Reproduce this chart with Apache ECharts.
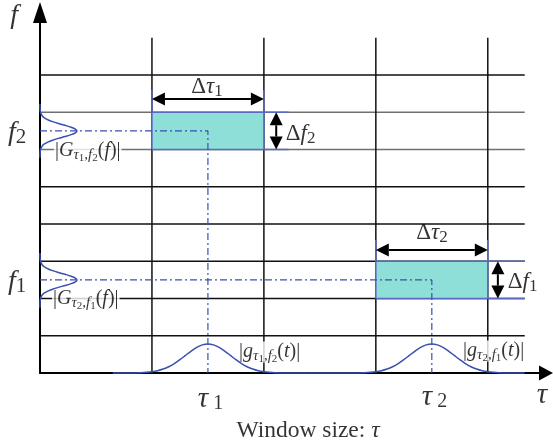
<!DOCTYPE html>
<html><head><meta charset="utf-8">
<script src="https://cdn.jsdelivr.net/npm/echarts@6/dist/echarts.min.js"></script>
<style>html,body{margin:0;padding:0;background:#fff}#c{width:553px;height:440px}</style>
</head><body><div id="c"></div>
<script>
// ---------------- data ----------------
const gridRows = [1, 2, 3, 4, 5, 6, 7, 8];
const gridCols = [1, 2, 3, 4];
const fadedRows = [6, 7];
const gridRowEnd = 4.33;
const gridColTop = 9;

const windowCenters = [1.5, 3.5];   // tau1, tau2
const freqCenters = [6.5, 2.5];     // f2, f1

const tileX0 = [1, 3];
const tileX1 = [2, 4];
const tileY0 = [6, 2];
const tileY1 = [7, 3];
const tileEdgeRight = [2.22, 4.33];
const tileEdgeTop = [7.6, 3.57];

const spanArrowX1 = [1, 3, 2.11, 4.09];
const spanArrowY1 = [7.36, 3.3, 6, 2];
const spanArrowX2 = [2, 4, 2.11, 4.09];
const spanArrowY2 = [7.36, 3.3, 7, 3];

// time-window magnitude |g(t)| curves
const g1x = [0.65, 0.8, 0.9, 0.95, 1.0, 1.05, 1.1, 1.15, 1.2, 1.25, 1.3, 1.35, 1.4, 1.45, 1.5, 1.55, 1.6, 1.65, 1.7, 1.75, 1.8, 1.85, 1.9, 1.95, 2.0, 2.05, 2.1, 2.2, 2.4];
const g1y = [0, 0.002, 0.009, 0.018, 0.034, 0.062, 0.106, 0.169, 0.253, 0.357, 0.473, 0.589, 0.688, 0.756, 0.78, 0.756, 0.688, 0.589, 0.473, 0.357, 0.253, 0.169, 0.106, 0.062, 0.034, 0.018, 0.009, 0.002, 0];
const g2x = [2.4, 2.8, 2.9, 2.95, 3.0, 3.05, 3.1, 3.15, 3.2, 3.25, 3.3, 3.35, 3.4, 3.45, 3.5, 3.55, 3.6, 3.65, 3.7, 3.75, 3.8, 3.85, 3.9, 3.95, 4.0, 4.05, 4.1, 4.2, 4.33];
const g2y = [0, 0.002, 0.009, 0.018, 0.034, 0.062, 0.106, 0.169, 0.253, 0.357, 0.473, 0.589, 0.688, 0.756, 0.78, 0.756, 0.688, 0.589, 0.473, 0.357, 0.253, 0.169, 0.106, 0.062, 0.034, 0.018, 0.009, 0.002, 0];

// frequency magnitude |G(f)| curves (amplitude along x, frequency along y)
const G2amp = [0, 0.0007, 0.0044, 0.0207, 0.0396, 0.0696, 0.112, 0.165, 0.224, 0.278, 0.316, 0.33, 0.316, 0.278, 0.224, 0.165, 0.112, 0.0696, 0.0396, 0.0207, 0.0044, 0.0007, 0];
const G2f = [7.22, 7.1, 7.0, 6.9, 6.85, 6.8, 6.75, 6.7, 6.65, 6.6, 6.55, 6.5, 6.45, 6.4, 6.35, 6.3, 6.25, 6.2, 6.15, 6.1, 6.0, 5.9, 5.78];
const G1amp = [0, 0.0007, 0.0044, 0.0207, 0.0396, 0.0696, 0.112, 0.165, 0.224, 0.278, 0.316, 0.33, 0.316, 0.278, 0.224, 0.165, 0.112, 0.0696, 0.0396, 0.0207, 0.0044, 0.0007, 0];
const G1f = [3.22, 3.1, 3.0, 2.9, 2.85, 2.8, 2.75, 2.7, 2.65, 2.6, 2.55, 2.5, 2.45, 2.4, 2.35, 2.3, 2.25, 2.2, 2.15, 2.1, 2.0, 1.9, 1.75];

// text annotations
const labelTexts = [
  '{I|f}',
  '{I|f}{Sr|2}',
  '{I|f}{Sr|1}',
  '{gR||}{gI|G}{gSi|τ}{gSS|1}{gSr|,}{gSi|f}{gSS|2}{gR|(}{gI|f}{gR|)|}',
  '{gR||}{gI|G}{gSi|τ}{gSS|2}{gSr|,}{gSi|f}{gSS|1}{gR|(}{gI|f}{gR|)|}',
  '{dR|Δ}{dI|τ}{dS|1}',
  '{dR|Δ}{dI|f}{dS|2}',
  '{dR|Δ}{dI|τ}{dS|2}',
  '{dR|Δ}{dI|f}{dS|1}',
  '{gR||}{gI|g}{gSi|τ}{gSS|1}{gSr|,}{gSi|f}{gSS|2}{gR|(}{gI|t}{gR|)|}',
  '{gR||}{gI|g}{gSi|τ}{gSS|2}{gSr|,}{gSi|f}{gSS|1}{gR|(}{gI|t}{gR|)|}',
  '{T|τ}{Ts| 1}',
  '{T|τ}{Ts| 2}',
  '{T|τ}',
  '{w|Window size: }{wI|τ}'
];
const labelX = [-0.232, -0.286, -0.286, 0.125, 0.107, 1.492, 2.195, 3.502, 4.178, 1.769, 3.770, 1.410, 3.411, 4.484, 2.394];
const labelY = [9.587, 6.445, 2.444, 5.961, 1.987, 7.68, 6.418, 3.759, 2.444, 0.564, 0.591, -0.698, -0.644, -0.591, -1.557];
const labelAlign = ['center', 'left', 'left', 'left', 'left', 'center', 'left', 'center', 'left', 'left', 'left', 'left', 'left', 'center', 'center'];
const labelBoxed = [0, 0, 0, 1, 1, 0, 0, 0, 0, 1, 1, 0, 0, 0, 0];

// ---------------- styles ----------------
const SERIF = '"Liberation Serif", "DejaVu Serif", serif';
const BLUE = '#3a4fb2';
const EDGE = '#5a6ac4';
const FILL = '#8edfd7';

function tok(size, italic, shift, lh) {
  const o = { fontFamily: SERIF, fontSize: size, fontStyle: italic ? 'italic' : 'normal', color: '#000', lineHeight: lh };
  if (shift) o.padding = [shift * 2, 0, 0, 0];
  return o;
}
const rich = {
  I: tok(28, true, 0, 32), Sr: tok(21, false, 5, 32),
  T: tok(29, true, 0, 32), Ts: tok(20, false, 5, 32),
  dI: tok(23, true, 0, 26), dR: tok(23, false, 0, 26), dS: tok(17, false, 5, 26),
  gI: tok(20, true, 0, 21), gR: tok(20, false, 0, 21), gSi: tok(15, true, 4, 21), gSr: tok(15, false, 4, 21), gSS: tok(11, false, 7, 21),
  w: tok(23.5, false, 0, 26), wI: tok(23.5, true, 0, 26)
};

// ---------------- build series data ----------------
const gridSegs = [];
gridRows.forEach(r => gridSegs.push([0, r, gridRowEnd, r, fadedRows.includes(r) ? 1 : 0]));
gridCols.forEach(c => gridSegs.push([c, 0, c, gridColTop, 0]));

const tiles = tileX0.map((x0, i) => [x0, tileX1[i], tileY0[i], tileY1[i], tileEdgeRight[i], tileEdgeTop[i]]);
const arrows = spanArrowX1.map((x, i) => [x, spanArrowY1[i], spanArrowX2[i], spanArrowY2[i]]);

const zip = (a, b) => a.map((v, i) => [v, b[i]]);

const labelData = labelTexts.map((t, i) => ({
  value: [labelX[i], labelY[i]],
  label: Object.assign({
    show: true, formatter: t, align: labelAlign[i], verticalAlign: 'middle', position: [0, 0]
  }, labelBoxed[i] ? { backgroundColor: '#fff', padding: [0, 1] } : {})
}));

const option = {
  animation: false,
  backgroundColor: '#fff',
  grid: { left: 40, right: 7, top: 12.5, bottom: 67 },
  xAxis: {
    type: 'value', min: 0, max: 4.52,
    axisLine: { lineStyle: { color: '#000', width: 2 }, symbol: ['none', 'triangle'], symbolSize: [15, 14] },
    axisTick: { show: false }, axisLabel: { show: false }, splitLine: { show: false }
  },
  yAxis: {
    type: 'value', min: 0, max: 9.68,
    axisLine: { lineStyle: { color: '#000', width: 2 }, symbol: ['none', 'triangle'], symbolSize: [14, 21] },
    axisTick: { show: false }, axisLabel: { show: false }, splitLine: { show: false }
  },
  series: [
    {
      type: 'custom', z: 1, clip: false, data: gridSegs,
      renderItem: (p, api) => {
        const a = api.coord([api.value(0), api.value(1)]);
        const b = api.coord([api.value(2), api.value(3)]);
        return { type: 'line', shape: { x1: a[0], y1: a[1], x2: b[0], y2: b[1] },
          style: { stroke: api.value(4) ? '#707070' : '#111', lineWidth: 1.5 } };
      }
    },
    {
      type: 'custom', z: 2, clip: false, data: tiles,
      renderItem: (p, api) => {
        const x0 = api.value(0), x1 = api.value(1), y0 = api.value(2), y1 = api.value(3);
        const xr = api.value(4), yt = api.value(5);
        const tl = api.coord([x0, y1]), br = api.coord([x1, y0]);
        const er = api.coord([xr, y0]), et = api.coord([x0, yt]);
        const ln = (ax, ay, bx, by) => ({ type: 'line', shape: { x1: ax, y1: ay, x2: bx, y2: by }, style: { stroke: EDGE, lineWidth: 1.5 } });
        return { type: 'group', children: [
          { type: 'rect', shape: { x: tl[0], y: tl[1], width: br[0] - tl[0], height: br[1] - tl[1] }, style: { fill: FILL } },
          ln(tl[0], tl[1], er[0], tl[1]),
          ln(tl[0], br[1], er[0], br[1]),
          ln(tl[0], br[1], tl[0], et[1]),
          ln(br[0], br[1], br[0], et[1])
        ] };
      }
    },
    {
      type: 'custom', z: 3, clip: false, data: arrows,
      renderItem: (p, api) => {
        const a = api.coord([api.value(0), api.value(1)]);
        const b = api.coord([api.value(2), api.value(3)]);
        const dx = b[0] - a[0], dy = b[1] - a[1], len = Math.hypot(dx, dy);
        const ux = dx / len, uy = dy / len, nx = -uy, ny = ux;
        const L = 13, W = 6.5;
        const head = (tx, ty, s) => ({ type: 'polygon', shape: { points: [
          [tx, ty], [tx + s * ux * L + nx * W, ty + s * uy * L + ny * W], [tx + s * ux * L - nx * W, ty + s * uy * L - ny * W]
        ] }, style: { fill: '#000' } });
        return { type: 'group', children: [
          { type: 'line', shape: { x1: a[0] + ux * L, y1: a[1] + uy * L, x2: b[0] - ux * L, y2: b[1] - uy * L }, style: { stroke: '#000', lineWidth: 2 } },
          head(a[0], a[1], 1), head(b[0], b[1], -1)
        ] };
      }
    },
    { type: 'line', z: 4, symbol: 'none', data: [[0, freqCenters[0]], [windowCenters[0], freqCenters[0]], [windowCenters[0], 0]],
      lineStyle: { color: BLUE, width: 1.2, type: [7, 3, 2, 3] } },
    { type: 'line', z: 4, symbol: 'none', data: [[0, freqCenters[1]], [windowCenters[1], freqCenters[1]], [windowCenters[1], 0]],
      lineStyle: { color: BLUE, width: 1.2, type: [7, 3, 2, 3] } },
    { type: 'line', z: 6, symbol: 'none', smooth: 0.3, clip: false, data: zip(g1x, g1y), lineStyle: { color: BLUE, width: 1.5 } },
    { type: 'line', z: 6, symbol: 'none', smooth: 0.3, clip: false, data: zip(g2x, g2y), lineStyle: { color: BLUE, width: 1.5 } },
    { type: 'line', z: 6, symbol: 'none', smooth: 0.3, clip: false, data: zip(G2amp, G2f), lineStyle: { color: BLUE, width: 1.5 } },
    { type: 'line', z: 6, symbol: 'none', smooth: 0.3, clip: false, data: zip(G1amp, G1f), lineStyle: { color: BLUE, width: 1.5 } },
    {
      type: 'scatter', z: 5, clip: false, symbolSize: 0, itemStyle: { color: 'transparent' },
      label: { show: true, rich: rich },
      emphasis: { disabled: true },
      data: labelData
    }
  ]
};
const chart = echarts.init(document.getElementById('c'), null, { renderer: 'canvas' });
chart.setOption(option);
</script>
</body></html>
